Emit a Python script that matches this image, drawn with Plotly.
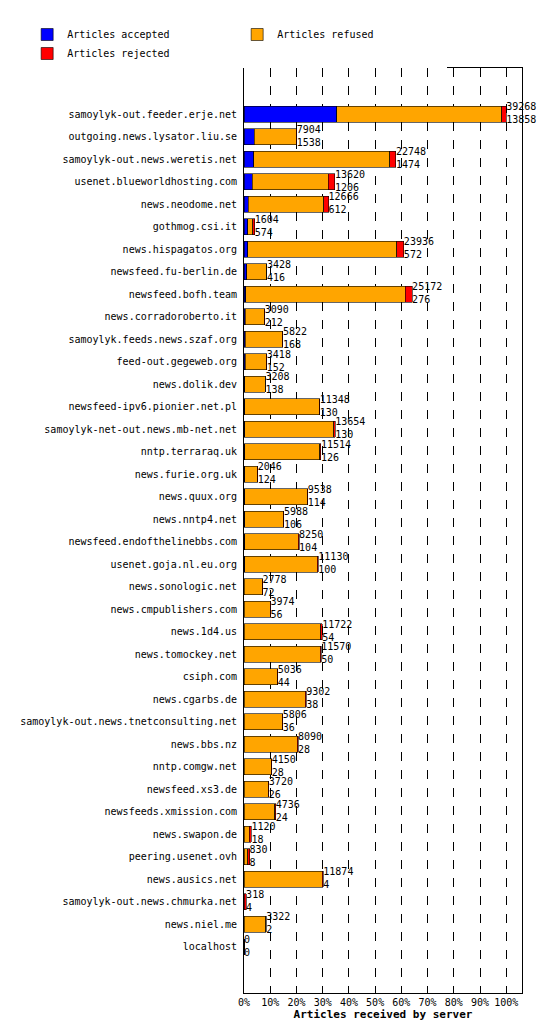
import plotly.graph_objects as go

servers = ["samoylyk-out.feeder.erje.net", "outgoing.news.lysator.liu.se", "samoylyk-out.news.weretis.net",
           "usenet.blueworldhosting.com", "news.neodome.net", "gothmog.csi.it", "news.hispagatos.org",
           "newsfeed.fu-berlin.de", "newsfeed.bofh.team", "news.corradoroberto.it", "samoylyk.feeds.news.szaf.org",
           "feed-out.gegeweb.org", "news.dolik.dev", "newsfeed-ipv6.pionier.net.pl", "samoylyk-net-out.news.mb-net.net",
           "nntp.terraraq.uk", "news.furie.org.uk", "news.quux.org", "news.nntp4.net", "newsfeed.endofthelinebbs.com",
           "usenet.goja.nl.eu.org", "news.sonologic.net", "news.cmpublishers.com", "news.1d4.us", "news.tomockey.net",
           "csiph.com", "news.cgarbs.de", "samoylyk-out.news.tnetconsulting.net", "news.bbs.nz", "nntp.comgw.net",
           "newsfeed.xs3.de", "newsfeeds.xmission.com", "news.swapon.de", "peering.usenet.ovh", "news.ausics.net",
           "samoylyk-out.news.chmurka.net", "news.niel.me", "localhost"]
totals = [39268, 7904, 22748, 13620, 12666, 1604, 23936, 3428, 25172, 3090, 5822, 3418, 3208, 11348, 13654,
          11514, 2046, 9538, 5988, 8250, 11130, 2778, 3974, 11722, 11570, 5036, 9302, 5806, 8090, 4150,
          3720, 4736, 1120, 830, 11874, 318, 3322, 0]
accepted = [13858, 1538, 1474, 1206, 612, 574, 572, 416, 276, 212, 168, 152, 138, 130, 130,
            126, 124, 114, 106, 104, 100, 72, 56, 54, 50, 44, 38, 36, 28, 28,
            26, 24, 18, 8, 4, 4, 2, 0]
rejected = [700, 60, 900, 1000, 700, 300, 1100, 50, 1000, 50, 100, 50, 60, 100, 200,
            150, 50, 100, 80, 100, 150, 60, 60, 200, 150, 60, 100, 60, 100, 60,
            60, 100, 300, 300, 150, 300, 60, 0]
refused = [t - a - r for t, a, r in zip(totals, accepted, rejected)]
labels = [f"{t}<br>{a}" for t, a in zip(totals, accepted)]
ticks = [i * 10 for i in range(11)]

fig = go.Figure()
line = dict(color="black", width=0.6)
fig.add_bar(y=servers, x=accepted, orientation="h", name="Articles accepted", marker=dict(color="#0000ff", line=line))
fig.add_bar(y=servers, x=refused, orientation="h", name="Articles refused", marker=dict(color="#ffa500", line=line))
fig.add_bar(y=servers, x=rejected, orientation="h", name="Articles rejected", marker=dict(color="#ff0000", line=line))
fig.add_scatter(y=servers, x=totals, mode="text", text=labels, textposition="middle right",
                textfont=dict(size=10, family="DejaVu Sans Mono"), showlegend=False, cliponaxis=False)

fig.update_layout(
    width=550, height=1030, barmode="stack", bargap=0.3,
    plot_bgcolor="white", paper_bgcolor="white",
    font=dict(family="DejaVu Sans Mono", size=10, color="black"),
    margin=dict(l=225, r=36, t=40, b=45),
    legend=dict(orientation="h", traceorder="normal", x=-0.78, xanchor="left", y=1.0, yanchor="bottom",
                font=dict(size=10), entrywidth=165, entrywidthmode="pixels"),
    xaxis=dict(range=[0, max(totals) * 1.06], tickvals=[max(totals) * v / 100 for v in ticks],
               ticktext=[f"{v}%" for v in ticks], showgrid=True, gridcolor="black", griddash="dash",
               gridwidth=0.6, showline=True, linecolor="black", mirror=True, zeroline=False,
               title=dict(text="<b>Articles received by server</b>", font=dict(size=11), standoff=2)),
    yaxis=dict(autorange="reversed", showline=True, linecolor="black", mirror=True, ticks="", ticklabelstandoff=4),
)
fig.write_html("out.html")
